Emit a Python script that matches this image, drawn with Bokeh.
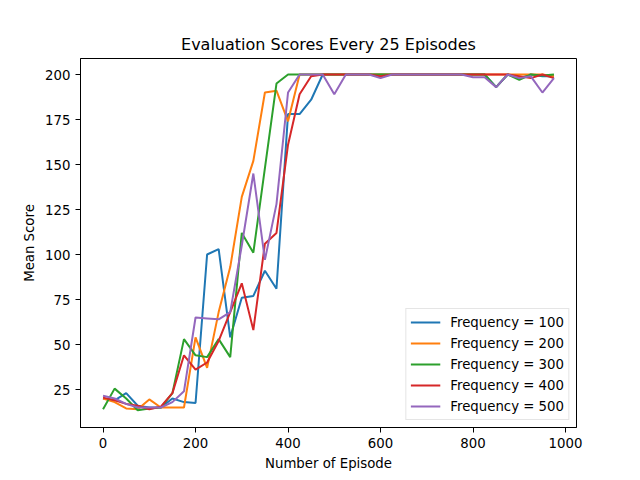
from bokeh.plotting import figure
from bokeh.models import FixedTicker, Range1d
from bokeh.embed import file_html
from bokeh.resources import INLINE

episodes = list(range(0, 1000, 25))

freq_100 = [20, 19, 23, 16, 15, 15, 20, 18, 17.5, 100, 103, 54, 76, 77, 91, 81, 178, 178, 186, 200,
            200, 200, 200, 200, 200, 200, 200, 200, 200, 200, 200, 200, 200, 200, 193, 200, 198, 200, 199, 199]
freq_200 = [20, 18, 14.5, 14, 19.5, 15, 15, 15, 54, 37, 68, 93, 132, 152, 190, 191, 174, 200, 200, 200,
            200, 200, 200, 200, 200, 200, 200, 200, 200, 200, 200, 200, 200, 200, 200, 200, 200, 200, 200, 199]
freq_300 = [14, 25.5, 20, 13.5, 14.5, 15, 23, 53, 44, 43, 53, 43, 112, 101, 148, 195, 200, 200, 200, 200,
            200, 200, 200, 200, 200, 200, 200, 200, 200, 200, 200, 200, 200, 200, 193, 200, 197, 200, 199.5, 200]
freq_400 = [20.5, 19, 17, 16, 14, 15.5, 23, 44, 36, 40, 52, 68, 84, 58, 106, 112, 161, 189, 199, 200,
            200, 200, 200, 200, 199, 200, 200, 200, 200, 200, 200, 200, 200, 200, 200, 200, 199, 198, 200, 198]
freq_500 = [21.5, 20, 17, 15, 15, 15, 18, 24, 65, 64.5, 64, 68, 105, 145, 97, 128, 190, 200, 200, 200,
            189, 200, 200, 200, 198, 200, 200, 200, 200, 200, 200, 200, 198.5, 198.5, 193, 200, 198, 199, 190, 198]

series_labels = ["Frequency = 100", "Frequency = 200", "Frequency = 300", "Frequency = 400", "Frequency = 500"]
series_values = [freq_100, freq_200, freq_300, freq_400, freq_500]
colors = ["#1f77b4", "#ff7f0e", "#2ca02c", "#d62728", "#9467bd"]

x_ticks = [0, 200, 400, 600, 800, 1000]
y_ticks = [25, 50, 75, 100, 125, 150, 175, 200]

FONT = "DejaVu Sans"

p = figure(frame_width=496, frame_height=369,
           min_border_left=80, min_border_right=64, min_border_top=58, min_border_bottom=53,
           output_backend="svg", toolbar_location=None,
           title="Evaluation Scores Every 25 Episodes",
           x_range=Range1d(-48.75, 1023.75), y_range=Range1d(3.9, 208.9))

for lbl, vals, c in zip(series_labels, series_values, colors):
    p.line(episodes, vals, line_color=c, line_width=2, legend_label=lbl)

p.title.align = "center"
p.title.text_font = FONT
p.title.text_font_size = "16px"
p.title.text_font_style = "normal"
p.title.text_color = "black"

p.xgrid.visible = False
p.ygrid.visible = False
p.outline_line_color = "black"
p.outline_line_width = 1
p.outline_line_alpha = 1

for ax in (p.xaxis, p.yaxis):
    ax.major_tick_in = 0
    ax.major_tick_out = 5
    ax.minor_tick_line_color = None
    ax.major_label_text_font = FONT
    ax.major_label_text_font_size = "13.3px"
    ax.major_label_text_color = "black"
    ax.axis_label_text_font = FONT
    ax.axis_label_text_font_size = "13.3px"
    ax.axis_label_text_font_style = "normal"
    ax.axis_label_text_color = "black"
    ax.axis_line_color = "black"
    ax.major_tick_line_color = "black"

p.xaxis.ticker = FixedTicker(ticks=x_ticks)
p.yaxis.ticker = FixedTicker(ticks=y_ticks)
p.xaxis.axis_label = "Number of Episode"
p.yaxis.axis_label = "Mean Score"

p.legend.location = "bottom_right"
p.legend.border_line_color = "#cccccc"
p.legend.background_fill_alpha = 0.8
p.legend.label_text_font = FONT
p.legend.label_text_font_size = "13.3px"
p.legend.label_text_color = "black"
p.legend.glyph_width = 30
p.legend.glyph_height = 18
p.legend.label_height = 18
p.legend.spacing = 3
p.legend.padding = 4
p.legend.label_standoff = 10
p.legend.margin = 7

open("out.html", "w").write(file_html(p, INLINE))
